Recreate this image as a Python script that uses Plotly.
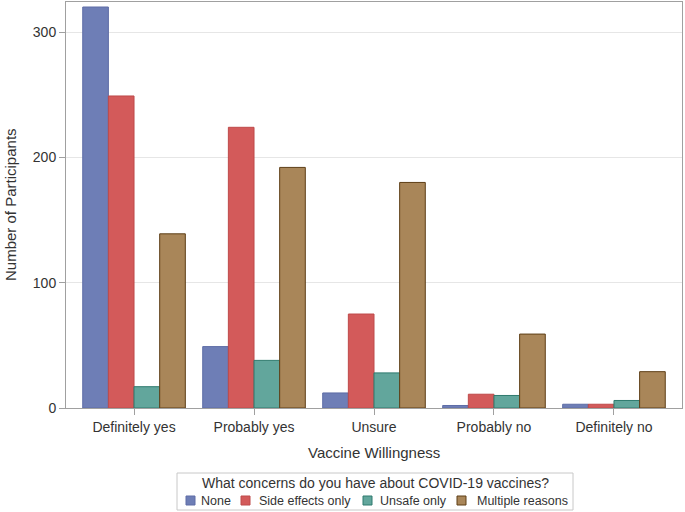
import plotly.graph_objects as go

categories = ["Definitely yes", "Probably yes", "Unsure", "Probably no", "Definitely no"]
series_names = ["None", "Side effects only", "Unsafe only", "Multiple reasons"]
none_vals = [320, 49, 12, 2, 3]
side_effects_vals = [249, 224, 75, 11, 3]
unsafe_vals = [17, 38, 28, 10, 6]
multiple_vals = [139, 192, 180, 59, 29]
y_ticks = [0, 100, 200, 300]
legend_title = "What concerns do you have about COVID-19 vaccines?"

fills = ["#6E7EB6", "#D35A5A", "#62A69C", "#A98659"]
lines = ["#5E6DA6", "#BE4A4A", "#2F7A6E", "#5E3E16"]

W, H = 685, 512
L, R, T, B = 66, 682, 2, 408


def px(x):
    return (x - L) / (R - L)


def py(y):
    return (B - y) / (B - T)


FONT = "Liberation Sans, Arial, sans-serif"
fig = go.Figure()
for name, vals, fc, lc in zip(series_names, [none_vals, side_effects_vals, unsafe_vals, multiple_vals], fills, lines):
    fig.add_trace(go.Bar(
        x=list(range(len(categories))), y=vals, name=name, showlegend=False,
        marker=dict(color=fc, line=dict(color=lc, width=1)),
    ))

annotations = [
    dict(text="Vaccine Willingness", x=px(374), y=py(452), xref="paper", yref="paper",
         showarrow=False, font=dict(size=15), xanchor="center", yanchor="middle"),
    dict(text="Number of Participants", x=px(10), y=py(205), xref="paper", yref="paper",
         showarrow=False, font=dict(size=15), textangle=-90, xanchor="center", yanchor="middle"),
    dict(text=legend_title, x=px(375), y=py(483), xref="paper", yref="paper",
         showarrow=False, font=dict(size=14), xanchor="center", yanchor="middle"),
]
shapes = [
    dict(type="rect", xref="paper", yref="paper", x0=px(177), x1=px(573), y0=py(473), y1=py(510),
         line=dict(color="#C8C8C8", width=1), fillcolor="rgba(0,0,0,0)", layer="above"),
]
sw_x = [186, 241, 363, 457]
tx_x = [199, 257, 378, 475]
for name, fc, lc, sx, tx in zip(series_names, fills, lines, sw_x, tx_x):
    shapes.append(dict(type="rect", xref="paper", yref="paper", x0=px(sx), x1=px(sx + 9),
                       y0=py(505), y1=py(496), fillcolor=fc, line=dict(color=lc, width=1)))
    annotations.append(dict(text=name, x=px(tx), y=py(500.5), xref="paper", yref="paper",
                            showarrow=False, font=dict(size=12.5), xanchor="left", yanchor="middle"))

fig.update_layout(
    width=W, height=H,
    margin=dict(l=L, r=W - R, t=T, b=H - B, autoexpand=False),
    barmode="group", bargap=0.145, bargroupgap=0,
    plot_bgcolor="white", paper_bgcolor="white",
    font=dict(family=FONT, size=14, color="#333333"),
    xaxis=dict(
        tickmode="array", tickvals=list(range(len(categories))), ticktext=categories,
        range=[-0.567, 4.567], showgrid=False, ticks="outside", ticklen=6, tickcolor="#A0A0A0",
        showline=True, linecolor="#A0A0A0", mirror=True, zeroline=False, automargin=False,
        tickfont=dict(size=14),
    ),
    yaxis=dict(
        range=[0, 324], tickvals=y_ticks, showgrid=True, gridcolor="#E6E6E6",
        ticks="outside", ticklen=6, tickcolor="#A0A0A0",
        showline=True, linecolor="#A0A0A0", mirror=True, zeroline=False, automargin=False,
        tickfont=dict(size=14),
    ),
    annotations=annotations,
    shapes=shapes,
)

fig.write_html("out.html", config={"displayModeBar": False},
               post_script="document.body.style.margin='0';document.body.style.overflow='hidden';")
